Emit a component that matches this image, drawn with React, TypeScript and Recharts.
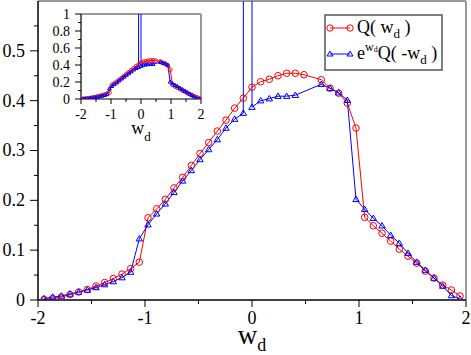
import { LineChart, Line, XAxis, YAxis, ReferenceLine } from 'recharts';

// w_d grid of the histogram
const wd = [
  -1.944, -1.863, -1.782, -1.701, -1.62, -1.539, -1.458, -1.377, -1.296, -1.215,
  -1.134, -1.053, -0.972, -0.891, -0.81, -0.729, -0.648, -0.567, -0.486, -0.405,
  -0.324, -0.243, -0.162, -0.081, 0, 0.081, 0.162, 0.243, 0.324, 0.405,
  0.486, 0.567, 0.648, 0.729, 0.81, 0.891, 0.972, 1.053, 1.134, 1.215,
  1.296, 1.377, 1.458, 1.539, 1.62, 1.701, 1.782, 1.863, 1.944,
];

// Q(w_d)
const qForward = [
  0.001, 0.003, 0.006, 0.011, 0.016, 0.021, 0.028, 0.035, 0.043, 0.052,
  0.063, 0.076, 0.165, 0.183, 0.202, 0.225, 0.246, 0.27, 0.294, 0.316,
  0.339, 0.361, 0.385, 0.405, 0.427, 0.438, 0.443, 0.45, 0.455, 0.455,
  0.452, null, 0.442, 0.425, 0.415, 0.395, 0.345, 0.166, 0.149, 0.134,
  0.118, 0.102, 0.088, 0.074, 0.058, 0.044, 0.03, 0.02, 0.008,
];

// e^{w_d} Q(-w_d)
const qReversed = [
  0.003, 0.006, 0.008, 0.012, 0.016, 0.02, 0.025, 0.031, 0.037, 0.045,
  0.056, 0.123, 0.151, 0.173, 0.193, 0.216, 0.239, 0.26, 0.282, 0.302,
  0.322, 0.345, 0.363, 0.375, 0.387, 0.4, 0.404, 0.409, 0.409, 0.411,
  null, null, 0.433, 0.425, 0.416, 0.401, 0.202, 0.182, 0.164, 0.149,
  0.13, 0.114, 0.094, 0.076, 0.06, 0.044, 0.028, 0.009, 0.002,
];

// the reversed curve blows up between its two points next to zero
const spikeW = -0.04;
const spikeQ = 60;

const xMajor = [-2, -1, 0, 1, 2];
const xMinor = [-1.5, -0.5, 0.5, 1.5];
const mainYMajor = [0, 0.1, 0.2, 0.3, 0.4, 0.5];
const mainYMinor = [0.05, 0.15, 0.25, 0.35, 0.45, 0.55];
const insetYMajor = [0, 0.2, 0.4, 0.6, 0.8, 1];
const insetYMinor = [0.1, 0.3, 0.5, 0.7, 0.9];

const RED = '#ff0000';
const BLUE = '#0000ff';
const FONT = '"Liberation Serif", "DejaVu Serif", serif';

const redData = wd
  .map((w, i) => ({ w, q: qForward[i] }))
  .filter((d) => d.q !== null);
const blueData = [...wd.map((w, i) => ({ w, q: qReversed[i] })), { w: spikeW, q: spikeQ }]
  .filter((d) => d.q !== null)
  .sort((a, b) => a.w - b.w);

const byValue = (a: number, b: number) => a - b;

function makeYTick(major: number[], len: number, minorLen: number, fontSize: number, gap: number) {
  return (p: any) => {
    const v = p.payload.value;
    const isMajor = major.includes(v);
    const l = isMajor ? len : minorLen;
    return (
      <g>
        <line x1={p.x - l} x2={p.x} y1={p.y} y2={p.y} stroke="#000" strokeWidth={1} />
        {isMajor && (
          <text x={p.x - len - gap} y={p.y} dy="0.33em" textAnchor="end" fontSize={fontSize} fontFamily={FONT} fill="#000">
            {String(v)}
          </text>
        )}
      </g>
    );
  };
}

function makeXTick(major: number[], len: number, minorLen: number, fontSize: number, base: number) {
  return (p: any) => {
    const v = p.payload.value;
    const isMajor = major.includes(v);
    const l = isMajor ? len : minorLen;
    return (
      <g>
        <line x1={p.x} x2={p.x} y1={p.y} y2={p.y + l} stroke="#000" strokeWidth={1} />
        {isMajor && (
          <text x={p.x} y={p.y + base} textAnchor="middle" fontSize={fontSize} fontFamily={FONT} fill="#000">
            {String(v)}
          </text>
        )}
      </g>
    );
  };
}

function makeWdLabel(size: number, subSize: number, base: number, drop: number) {
  return (p: any) => {
    const vb = p.viewBox;
    return (
      <text x={vb.x + vb.width / 2} y={vb.y + base} textAnchor="middle" fontFamily={FONT} fill="#000" fontSize={size}>
        w<tspan fontSize={subSize} dy={drop}>d</tspan>
      </text>
    );
  };
}

function triangleDot(s: number, sw: number) {
  return (p: any) => {
    if (p.cx == null || p.cy == null || p.payload.q > 1) return <g key={`t${p.index}`} />;
    const d = `M${p.cx},${p.cy - s}L${p.cx - s},${p.cy + s * 0.7}L${p.cx + s},${p.cy + s * 0.7}Z`;
    return <path key={`t${p.index}`} d={d} fill="none" stroke={BLUE} strokeWidth={sw} />;
  };
}

function Legend() {
  return (
    <svg width={120} height={58} style={{ position: 'absolute', left: 324, top: 14 }}>
      <rect x={1} y={1} width={117} height={55} fill="#fff" stroke="#555" strokeWidth={1.5} />
      <line x1={6} x2={26} y1={14} y2={14} stroke={RED} />
      <circle cx={6} cy={14} r={3.2} fill="none" stroke={RED} />
      <circle cx={26} cy={14} r={3.2} fill="none" stroke={RED} />
      <text x={33} y={19} fontFamily={FONT} fontSize={18} fill="#000">
        Q( w<tspan fontSize={13} dy={5}>d</tspan>
        <tspan dy={-5}> )</tspan>
      </text>
      <line x1={6} x2={26} y1={40} y2={40} stroke={BLUE} />
      <path d="M6,37L3,42L9,42Z" fill="none" stroke={BLUE} />
      <path d="M26,37L23,42L29,42Z" fill="none" stroke={BLUE} />
      <text x={33} y={45} fontFamily={FONT} fontSize={18} fill="#000">
        e<tspan fontSize={12} dy={-8}>w</tspan>
        <tspan fontSize={8} dy={1}>d</tspan>
        <tspan dy={7}>Q( -w</tspan>
        <tspan fontSize={13} dy={5}>d</tspan>
        <tspan dy={-5}> )</tspan>
      </text>
    </svg>
  );
}

export default function App() {
  return (
    <div style={{ position: 'absolute', left: 0, top: 0, width: 471, height: 355, background: '#fff', fontFamily: FONT }}>
      <LineChart width={471} height={355} margin={{ top: 1, right: 5, bottom: 0, left: 0 }}>
        <XAxis
          dataKey="w"
          type="number"
          domain={[-2, 2]}
          ticks={[...xMajor, ...xMinor].sort(byValue)}
          interval={0}
          height={55}
          tickSize={0}
          tickMargin={0}
          tickLine={false}
          axisLine={{ stroke: '#000', strokeWidth: 1.5 }}
          tick={makeXTick(xMajor, 7, 4, 18, 24)}
          label={{ content: makeWdLabel(27, 18, 44, 7) }}
        />
        <YAxis
          type="number"
          domain={[0, 0.6]}
          allowDataOverflow
          ticks={[...mainYMajor, ...mainYMinor].sort(byValue)}
          interval={0}
          width={38}
          tickSize={0}
          tickMargin={0}
          tickLine={false}
          axisLine={{ stroke: '#000', strokeWidth: 1.5 }}
          tick={makeYTick(mainYMajor, 8, 4, 18, 5)}
        />
        <ReferenceLine y={0.6} stroke="#999" strokeWidth={2} />
        <ReferenceLine x={2} stroke="#999" strokeWidth={2} />
        <Line
          data={redData}
          dataKey="q"
          type="linear"
          stroke={RED}
          strokeWidth={1}
          dot={{ r: 3.3, fill: 'none', stroke: RED, strokeWidth: 1 }}
          isAnimationActive={false}
        />
        <Line
          data={blueData}
          dataKey="q"
          type="linear"
          stroke={BLUE}
          strokeWidth={1}
          dot={triangleDot(3.2, 1)}
          isAnimationActive={false}
        />
      </LineChart>

      <div style={{ position: 'absolute', left: 41, top: 5 }}>
        <LineChart width={169} height={144} margin={{ top: 9, right: 9, bottom: 0, left: 0 }}>
          <XAxis
            dataKey="w"
            type="number"
            domain={[-2, 2]}
            ticks={[...xMajor, ...xMinor].sort(byValue)}
            interval={0}
            height={50}
            tickSize={0}
            tickMargin={0}
            tickLine={false}
            axisLine={{ stroke: '#000', strokeWidth: 1.2 }}
            tick={makeXTick(xMajor, 5, 3, 14, 20)}
            label={{ content: makeWdLabel(18, 13, 35, 7) }}
          />
          <YAxis
            type="number"
            domain={[0, 1]}
            allowDataOverflow
            ticks={[...insetYMajor, ...insetYMinor].sort(byValue)}
            interval={0}
            width={40}
            tickSize={0}
            tickMargin={0}
            tickLine={false}
            axisLine={{ stroke: '#000', strokeWidth: 1.2 }}
            tick={makeYTick(insetYMajor, 6, 3, 14, 5)}
          />
          <ReferenceLine y={1} stroke="#999" strokeWidth={2} />
          <ReferenceLine x={2} stroke="#999" strokeWidth={2} />
          <Line
            data={redData}
            dataKey="q"
            type="linear"
            stroke={RED}
            strokeWidth={1}
            dot={{ r: 1.9, fill: 'none', stroke: RED, strokeWidth: 0.9 }}
            isAnimationActive={false}
          />
          <Line
            data={blueData}
            dataKey="q"
            type="linear"
            stroke={BLUE}
            strokeWidth={1}
            dot={triangleDot(1.9, 1)}
            isAnimationActive={false}
          />
        </LineChart>
      </div>

      <Legend />
    </div>
  );
}
